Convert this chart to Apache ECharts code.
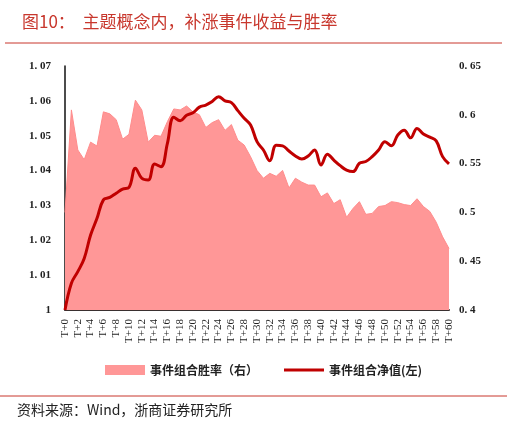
<!DOCTYPE html>
<html>
<head>
<meta charset="utf-8">
<script src="https://cdn.jsdelivr.net/npm/echarts@6/dist/echarts.min.js"></script>
<style>
  html, body { margin: 0; padding: 0; background: #fff; }
  #main { width: 507px; height: 426px; }
</style>
</head>
<body>
<div id="main"></div>
<script>
// T+0 ... T+60
var days = [];
for (var i = 0; i <= 60; i++) { days.push("T+" + i); }

// 事件组合胜率（右）
var winRate = [
    0.500, 0.605, 0.564, 0.554, 0.572, 0.568, 0.603, 0.601, 0.595, 0.575,
    0.580, 0.615, 0.605, 0.572, 0.579, 0.578, 0.593, 0.606, 0.605, 0.609,
    0.603, 0.600, 0.587, 0.592, 0.595, 0.584, 0.590, 0.574, 0.569, 0.557,
    0.543, 0.535, 0.540, 0.537, 0.543, 0.525, 0.535, 0.531, 0.528, 0.528,
    0.516, 0.520, 0.509, 0.513, 0.495, 0.504, 0.511, 0.498, 0.499, 0.506,
    0.507, 0.511, 0.510, 0.508, 0.507, 0.514, 0.506, 0.501, 0.490, 0.475,
    0.463
];

// 事件组合净值(左)
var netValue = [
    1.0000, 1.0077, 1.0110, 1.0148, 1.0215, 1.0263, 1.0316, 1.0323, 1.0335, 1.0347,
    1.0352, 1.0407, 1.0378, 1.0373, 1.0419, 1.0411, 1.0478, 1.0553, 1.0543, 1.0559,
    1.0566, 1.0582, 1.0588, 1.0598, 1.0612, 1.0600, 1.0595, 1.0572, 1.0550, 1.0531,
    1.0483, 1.0459, 1.0428, 1.0473, 1.0471, 1.0456, 1.0442, 1.0433, 1.0442, 1.0459,
    1.0416, 1.0447, 1.0430, 1.0414, 1.0401, 1.0397, 1.0421, 1.0426, 1.0440, 1.0459,
    1.0483, 1.0471, 1.0502, 1.0516, 1.0494, 1.0521, 1.0505, 1.0496, 1.0485, 1.0440,
    1.0419
];

var numFont = "Liberation Serif";
var cjkFont = "Noto Sans CJK SC";

function fmt(v) {
    var s = String(Math.round(v * 100) / 100);
    return s.replace(".", ". ");
}

var myChart = echarts.init(document.getElementById("main"));
var option = {
    backgroundColor: "#fff",
    animation: false,
    title: {
        text: "图10：  主题概念内，补涨事件收益与胜率",
        left: 17,
        top: 8,
        textStyle: { color: "#c8372d", fontSize: 17, fontWeight: "normal", fontFamily: cjkFont }
    },
    graphic: [
        { type: "line", shape: { x1: 5, y1: 43, x2: 502, y2: 43 }, style: { stroke: "#c8372d", lineWidth: 1 } },
        { type: "line", shape: { x1: 0, y1: 396, x2: 507, y2: 396 }, style: { stroke: "#c8372d", lineWidth: 1 } },
        {
            type: "text", left: 17, top: 403,
            style: { text: "资料来源：Wind，浙商证券研究所", fill: "#222", font: "14px " + cjkFont }
        }
    ],
    legend: {
        top: 359,
        left: 100,
        itemGap: 26,
        itemWidth: 40,
        itemHeight: 10,
        textStyle: { fontSize: 12, fontWeight: "bold", color: "#222", fontFamily: cjkFont },
        data: [
            { name: "事件组合胜率（右）", icon: "rect" },
            { name: "事件组合净值(左)", icon: "path://M0,4 L40,4 L40,7 L0,7 Z" }
        ]
    },
    grid: { left: 65, right: 58, top: 66, bottom: 116 },
    xAxis: {
        type: "category",
        data: days,
        boundaryGap: false,
        axisLine: { lineStyle: { color: "#3a3030", width: 2 } },
        axisTick: { show: false },
        axisLabel: {
            interval: 1,
            rotate: 90,
            fontSize: 11,
            color: "#222",
            fontFamily: numFont,
            margin: 9
        }
    },
    yAxis: [
        {
            type: "value",
            min: 1,
            max: 1.07,
            interval: 0.01,
            splitLine: { show: false },
            axisTick: { show: false },
            axisLine: { show: true, lineStyle: { color: "#111", width: 1.5 } },
            axisLabel: {
                formatter: fmt, fontSize: 11, color: "#222",
                fontFamily: numFont, fontWeight: "bold", margin: 14
            }
        },
        {
            type: "value",
            min: 0.4,
            max: 0.65,
            interval: 0.05,
            splitLine: { show: false },
            axisTick: { show: false },
            axisLine: { show: false },
            axisLabel: {
                formatter: fmt, fontSize: 11, color: "#222",
                fontFamily: numFont, fontWeight: "bold", margin: 10
            }
        }
    ],
    series: [
        {
            name: "事件组合胜率（右）",
            type: "line",
            yAxisIndex: 1,
            data: winRate,
            symbol: "none",
            lineStyle: { color: "#ff8c8c", width: 1 },
            itemStyle: { color: "#ff9797" },
            areaStyle: { color: "#ff9797", opacity: 1 },
            z: 1
        },
        {
            name: "事件组合净值(左)",
            type: "line",
            yAxisIndex: 0,
            data: netValue,
            symbol: "none",
            smooth: 0.4,
            lineStyle: { color: "#c00000", width: 3 },
            itemStyle: { color: "#c00000" },
            z: 3
        }
    ]
};
myChart.setOption(option);
window.onresize = myChart.resize;
</script>
</body>
</html>
